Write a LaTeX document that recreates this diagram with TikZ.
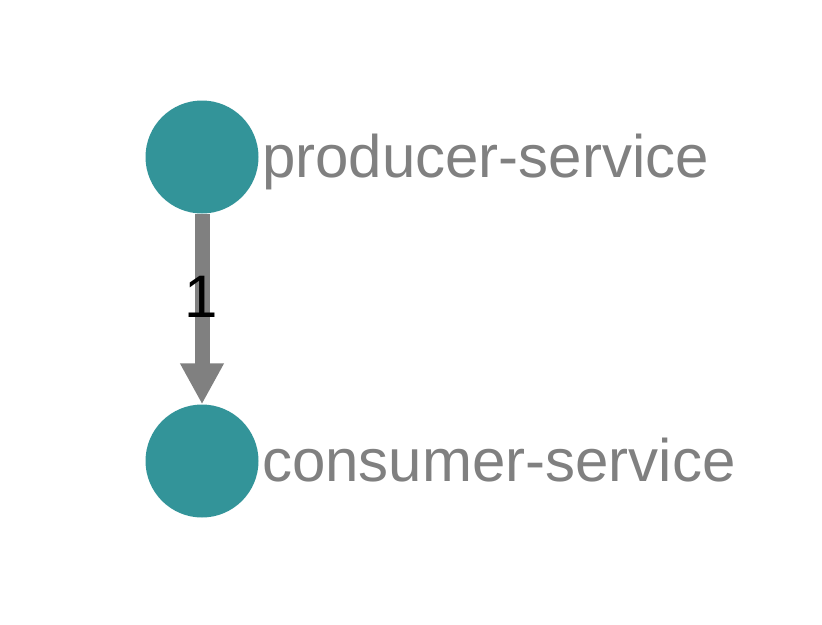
\documentclass[tikz,border=0pt]{standalone}
\usepackage{fontspec}
\setmainfont{Liberation Sans}
\usetikzlibrary{arrows.meta}
\definecolor{teal1}{RGB}{51,148,153}
\definecolor{txtgray}{RGB}{128,128,128}
\definecolor{edgegray}{RGB}{128,128,128}
\begin{document}
\begin{tikzpicture}[x=1pt,y=-1pt,
  svc/.style={circle,fill=teal1,draw=none,minimum size=113pt,inner sep=0pt},
  svclabel/.style={anchor=base west,text=txtgray,font=\fontsize{60}{60}\selectfont,inner sep=0pt},
  edgelabel/.style={text=black,font=\fontsize{60}{60}\selectfont,inner sep=0pt},
  flow/.style={draw=edgegray,line width=15pt,-{Triangle[width=41pt,length=41pt]}}]
\useasboundingbox (0,0) rectangle (822,624);
\node[svc] (p) at (202,157) {};
\node[svc] (c) at (202,461) {};
\node[svclabel] (pl) at (262,177) {producer-service};
\node[svclabel] (cl) at (262,481) {consumer-service};
\draw[flow] (p.south) -- (c.north);
\node[edgelabel] (l1) at (201,297) {1};
\end{tikzpicture}
\end{document}
